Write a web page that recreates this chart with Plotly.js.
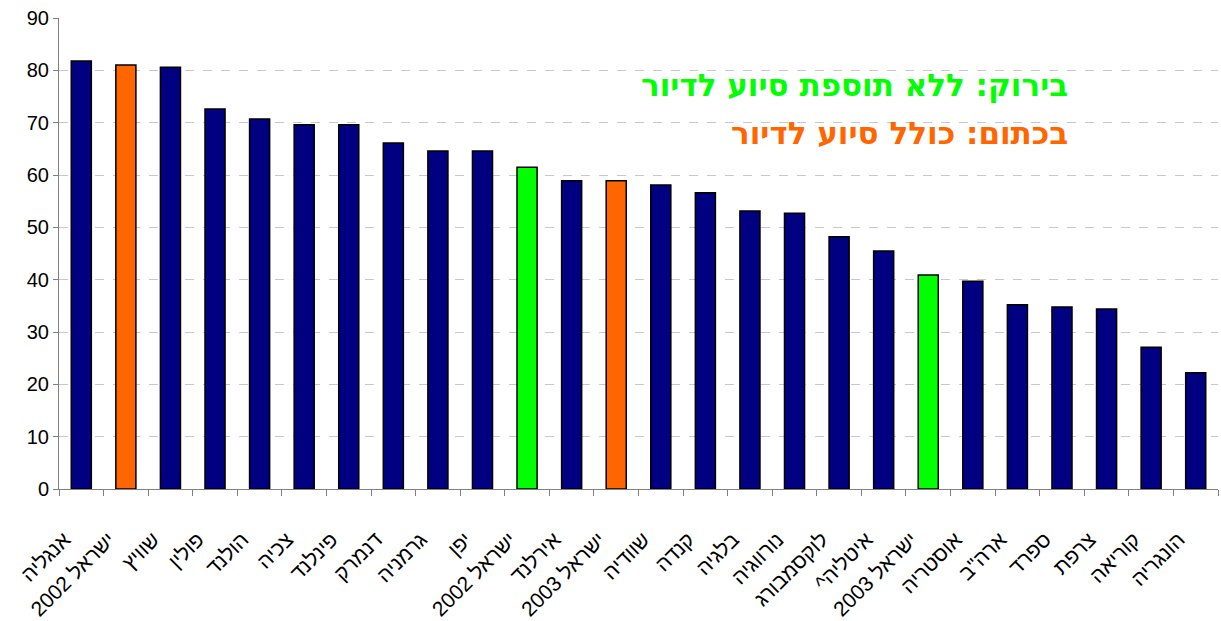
<!DOCTYPE html>
<html><head><meta charset="utf-8">
<script src="https://cdn.plot.ly/plotly-3.0.1.min.js"></script>
<style>html,body{margin:0;padding:0;background:#fff}#c{width:1221px;height:621px}</style>
</head><body><div id="c"></div>
<script>
const countries = ["אנגליה","2002 ישראל","שוויץ","פולין","הולנד","צכיה","פינלנד","דנמרק","גרמניה","יפן","2002 ישראל","אירלנד","2003 ישראל","שוודיה","קנדה","בלגיה","נורווגיה","לוקסמבורג","^איטליה","2003 ישראל","אוסטריה","ארה\"ב","ספרד","צרפת","קוריאה","הונגריה"];
const values = [81.8,81.0,80.6,72.6,70.7,69.6,69.6,66.1,64.6,64.6,61.5,58.9,58.9,58.1,56.6,53.1,52.7,48.2,45.5,40.9,39.7,35.2,34.8,34.4,27.1,22.2];
const kinds = ["base","with","base","base","base","base","base","base","base","base","without","base","with","base","base","base","base","base","base","without","base","base","base","base","base","base"];
const kindColors = {base:"#000080", with:"#FF6600", without:"#00FF00"};
const legendTexts = ["בירוק: ללא תוספת סיוע לדיור","בכתום: כולל סיוע לדיור"];
const legendColors = ["#00FF00","#FF6600"];

const idx = countries.map((_,i)=>i);
const font = "Liberation Sans, Arial, DejaVu Sans, sans-serif";
const trace = {
  type:"bar", x: idx, y: values,
  marker:{color: kinds.map(k=>kindColors[k]), line:{color:"#000", width:1.5}},
  width:0.45, hoverinfo:"y"
};
const boundaryTicks = [];
for (let i=0;i<=countries.length;i++) boundaryTicks.push(i-0.5);
const layout = {
  width:1221, height:621,
  margin:{l:59, r:3, t:18, b:132},
  paper_bgcolor:"#fff", plot_bgcolor:"#fff",
  showlegend:false,
  font:{family:font, size:20, color:"#000"},
  xaxis:{range:[-0.5, countries.length-0.5], tickvals: idx, ticktext: countries,
    tickangle:-45, ticks:"", showgrid:false, zeroline:false,
    ticklabelstandoff:29, ticklabelshift:-17,
    showline:true, linecolor:"#808080", linewidth:1, tickfont:{size:21, family:font}},
  xaxis2:{overlaying:"x", matches:"x", side:"bottom", anchor:"y", range:[-0.5, countries.length-0.5],
    tickvals: boundaryTicks, showticklabels:false, ticks:"outside", ticklen:6, tickcolor:"#808080",
    showgrid:false, zeroline:false, showline:false},
  yaxis:{range:[0,90], dtick:10, ticks:"outside", ticklen:5, tickcolor:"#808080",
    showline:true, linecolor:"#808080", linewidth:1, zeroline:false,
    gridcolor:"#c8c8c8", griddash:"dash", gridwidth:1, tickfont:{size:20, family:font}},
  annotations: legendTexts.map((t,i)=>({
    xref:"paper", yref:"paper", x:(1070-59)/1159, y:(489-85-i*48)/471,
    xanchor:"right", yanchor:"middle", showarrow:false,
    text:"<b>"+t+"</b>", font:{size:31, color:legendColors[i], family:"DejaVu Sans, sans-serif", weight:"bold"}
  }))
};
const trace2 = {type:"bar", x:[0], y:[0], xaxis:"x2", yaxis:"y", hoverinfo:"skip", marker:{color:"rgba(0,0,0,0)"}};
Plotly.newPlot("c", [trace, trace2], layout, {displayModeBar:false, staticPlot:true});
</script></body></html>
